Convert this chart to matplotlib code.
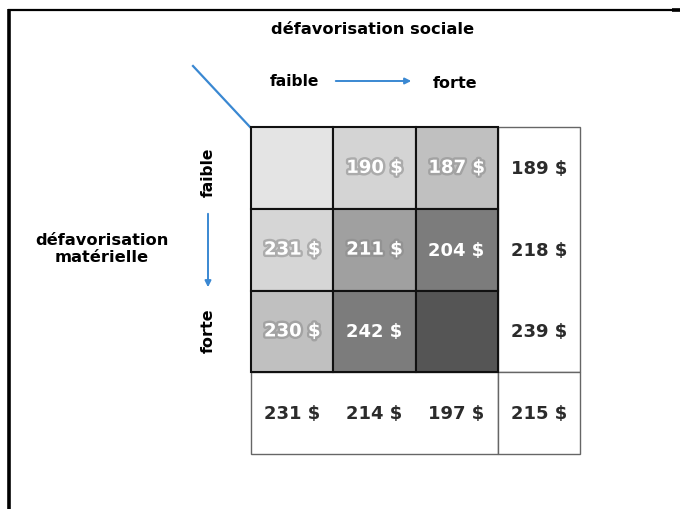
import numpy as np
import matplotlib.pyplot as plt
from matplotlib.patches import Rectangle
import matplotlib.patheffects as pe

# values ($) by material (rows) x social (cols) deprivation, None = blank cell
cell_vals = [[None, 190, 187],
             [231, 211, 204],
             [230, 242, None]]
row_totals = [189, 218, 239]
col_totals = [231, 214, 197]
grand_total = 215
# grey shade of each cell of the 3x3 block
shades = [['#e4e4e4', '#d4d4d4', '#c0c0c0'],
          ['#d6d6d6', '#a0a0a0', '#7c7c7c'],
          ['#c0c0c0', '#7c7c7c', '#555555']]
glow = [[False, True, True],
        [True, True, False],
        [True, False, False]]

W, H = 680, 510
fig = plt.figure(figsize=(6.8, 5.1), dpi=100)

# overlay axes in pixel coords for the frame and labels
bg = fig.add_axes([0, 0, 1, 1])
bg.set_xlim(0, W); bg.set_ylim(H, 0); bg.axis('off')
bg.plot([9, 9], [10, 510], color='black', lw=2.6, solid_capstyle='butt')
bg.plot([8, 680], [10.5, 10.5], color='black', lw=1.6, solid_capstyle='butt')
bg.plot([672, 680], [11, 11], color='black', lw=2.6, solid_capstyle='butt')

blue = '#3a88d2'
tkw = dict(fontweight='bold', color='black', family='DejaVu Sans')
bg.text(373, 29, 'défavorisation sociale', ha='center', va='center', fontsize=11.7, **tkw)
bg.text(294, 82, 'faible', ha='center', va='center', fontsize=11.2, **tkw)
bg.text(455, 84, 'forte', ha='center', va='center', fontsize=11.5, **tkw)
bg.annotate('', xy=(414, 82), xytext=(333, 82),
            arrowprops=dict(arrowstyle='-|>', color=blue, lw=1.4, mutation_scale=9))
bg.text(208, 172, 'faible', ha='center', va='center', fontsize=11.2, rotation=90, **tkw)
bg.text(208, 331, 'forte', ha='center', va='center', fontsize=11.5, rotation=90, **tkw)
bg.annotate('', xy=(208, 291), xytext=(208, 212),
            arrowprops=dict(arrowstyle='-|>', color=blue, lw=1.4, mutation_scale=9))
bg.text(102, 249, 'défavorisation\nmatérielle', ha='center', va='center',
        fontsize=11.7, linespacing=1.15, **tkw)
bg.plot([193, 250], [67, 128], color=blue, lw=1.6)

# grid axes: one unit per cell
x0, y0, x1, y1 = 251, 128, 580, 455
ax = fig.add_axes([x0 / W, 1 - y1 / H, (x1 - x0) / W, (y1 - y0) / H])
ax.set_xlim(0, 4); ax.set_ylim(4, 0); ax.axis('off')

# white outer cells
for xy, w, h in [((3, 0), 1, 3), ((0, 3), 3, 1), ((3, 3), 1, 1)]:
    ax.add_patch(Rectangle(xy, w, h, facecolor='white', edgecolor='#666666',
                           lw=1.0, clip_on=False))

fs = 13
for i in range(3):
    for j in range(3):
        ax.add_patch(Rectangle((j, i), 1, 1, facecolor=shades[i][j],
                               edgecolor='#111111', lw=1.5, zorder=2, clip_on=False))
        v = cell_vals[i][j]
        if v is None:
            continue
        effects = [pe.withStroke(linewidth=3.5, foreground='#8a8a8a', alpha=0.55)] if glow[i][j] else []
        ax.text(j + 0.5, i + 0.5, f'{v} $', ha='center', va='center', fontsize=fs,
                fontweight='bold', color='white', zorder=3, path_effects=effects)

for i, v in enumerate(row_totals):
    ax.text(3.5, i + 0.5, f'{v} $', ha='center', va='center', fontsize=fs,
            fontweight='bold', color='#2b2b2b')
for j, v in enumerate(col_totals):
    ax.text(j + 0.5, 3.5, f'{v} $', ha='center', va='center', fontsize=fs,
            fontweight='bold', color='#2b2b2b')
ax.text(3.5, 3.5, f'{grand_total} $', ha='center', va='center', fontsize=fs,
        fontweight='bold', color='#2b2b2b')

fig.savefig('out.png', dpi=100)
